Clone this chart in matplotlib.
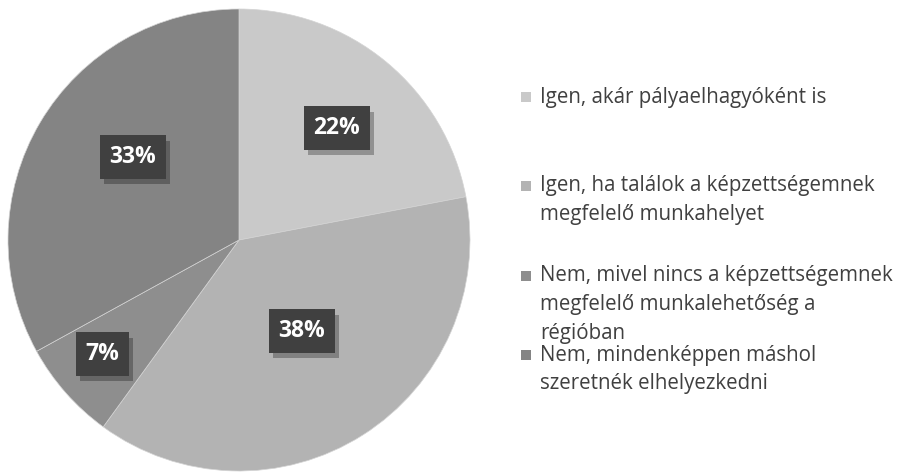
import numpy as np
import matplotlib
matplotlib.use('Agg')
import matplotlib.pyplot as plt
import matplotlib.patheffects as pe
from matplotlib.patches import Rectangle

labels = ['Igen, akár pályaelhagyóként is',
          'Igen, ha találok a képzettségemnek\nmegfelelő munkahelyet',
          'Nem, mivel nincs a képzettségemnek\nmegfelelő munkalehetőség a\nrégióban',
          'Nem, mindenképpen máshol\nszeretnék elhelyezkedni']
values = [22, 38, 7, 33]
colors = ['#c9c9c9', '#b3b3b3', '#8e8e8e', '#848484']

# label placement (radius as fraction, angle nudge in degrees)
label_r = [0.644, 0.479, 0.771, 0.583]
label_nudge = [-1.6, 2.3, -1.6, -7.5]

plt.rcParams['font.family'] = ['Open Sans', 'DejaVu Sans']

fig = plt.figure(figsize=(9.04, 4.72), dpi=100)
W, H = 904, 472
cx, cy, R = 239, 240, 231
ax = fig.add_axes([(cx - R) / W, (H - cy - R) / H, 2 * R / W, 2 * R / H])

wedges, _ = ax.pie(values, colors=colors, startangle=90, counterclock=False,
                   wedgeprops=dict(edgecolor='#d4d4d4', linewidth=0.5))
ax.set_xlim(-1, 1)
ax.set_ylim(-1, 1)
ax.set_aspect('equal')
ax.axis('off')

for w, v, r, d in zip(wedges, values, label_r, label_nudge):
    ang = np.deg2rad((w.theta1 + w.theta2) / 2 + d)
    t = ax.text(r * np.cos(ang), r * np.sin(ang), f'{v}%', ha='center', va='center',
                color='white', fontsize=16.5, fontweight='bold',
                bbox=dict(boxstyle='square,pad=0.42', facecolor='#404040', edgecolor='none'))
    t.get_bbox_patch().set_path_effects([
        pe.withSimplePatchShadow(offset=(3, -4), shadow_rgbFace='black', alpha=0.28),
        pe.Normal()])

# legend, drawn by hand to keep Excel's uneven spacing
entry_y = [97, 186, 276, 355]
line_h = 28.5
for lab, col, y in zip(labels, colors, entry_y):
    fig.patches.append(Rectangle((521 / W, 1 - (y + 5) / H), 10 / W, 10 / H,
                                 transform=fig.transFigure, facecolor=col,
                                 edgecolor='none'))
    for i, line in enumerate(lab.split('\n')):
        fig.text(540 / W, 1 - (y + i * line_h) / H, line, ha='left', va='center',
                 fontsize=14.8, color='#404040')

fig.savefig('out.png', dpi=100)
